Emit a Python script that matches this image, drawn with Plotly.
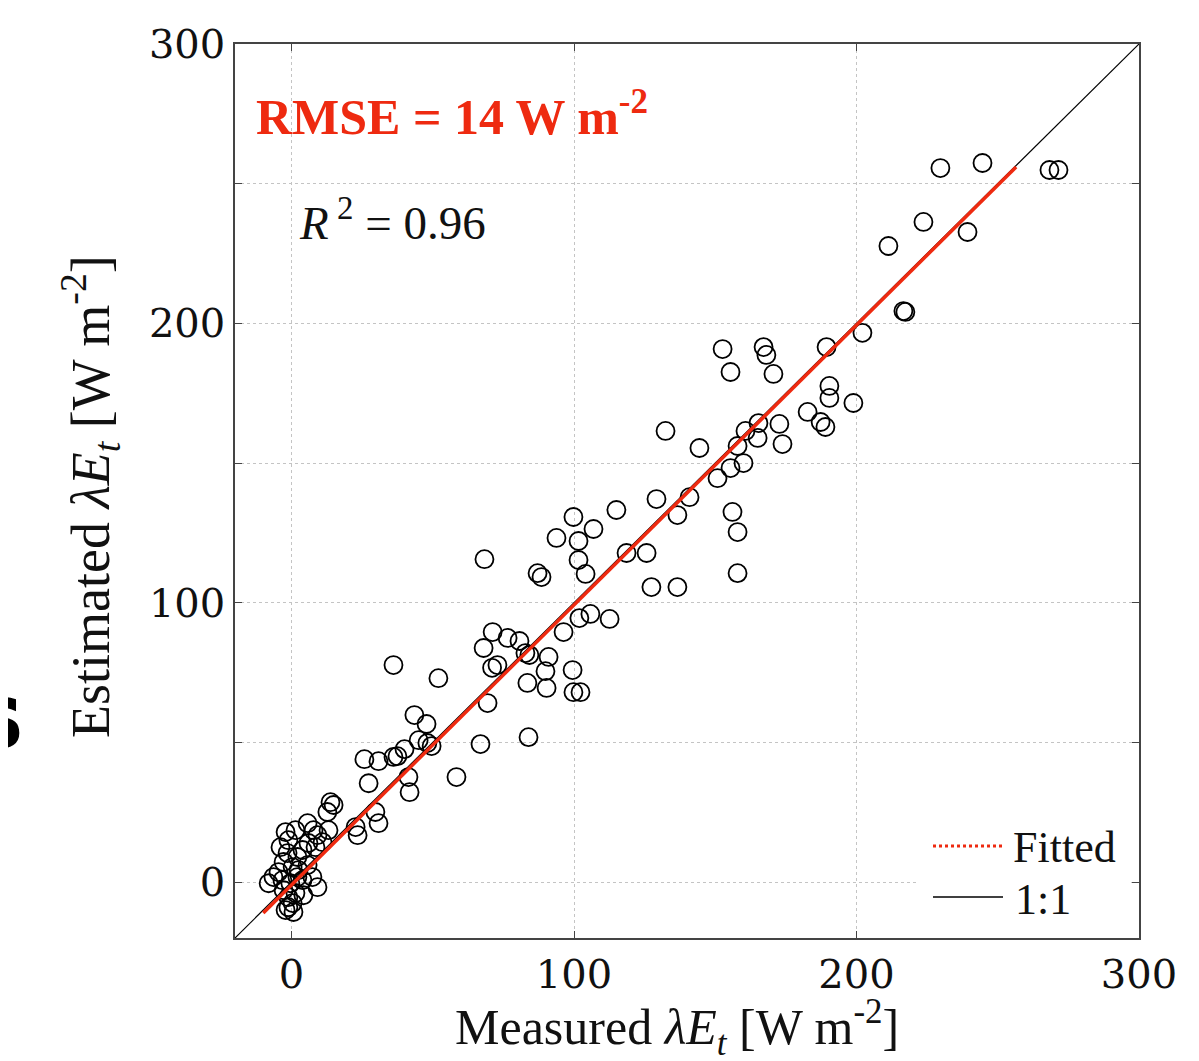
import plotly.graph_objects as go

# measured vs estimated latent heat flux, W m-2
measured = [
    229.7, 244.6, 268.3, 271.5, 223.7, 239.3, 211.3, 216.6, 217.3, 202.1,
    152.6, 167.1, 168.1, 155.4, 170.6, 189.4, 190.4, 190.4, 198.9, 182.7,
    187.3, 189.0, 172.7, 173.8, 165.3, 160.7, 165.0, 157.9, 144.4, 155.4, 160.0,
    132.4, 150.8, 140.9, 136.6, 129.2, 115.0, 156.1, 157.9, 157.9, 125.7,
    118.6, 127.4, 136.6, 99.8, 106.9, 93.8, 101.6, 101.6, 104.1, 68.3,
    87.1, 88.5, 101.9, 105.8, 112.6, 96.3, 71.2, 68.0, 76.5, 80.7,
    82.8, 84.2, 71.0, 72.9, 91.0,
    36.1, 52.0, 83.5, 89.9, 90.3, 99.5, 99.8, 102.3, 69.4, 66.9,
    83.9, 58.4, 43.5, 47.8, 40.0, 37.5, 45.0, 48.1, 49.6, 25.8,
    30.8, 36.1, 27.3, 41.4, 41.8, 29.7, 30.8, 22.7, 23.4, 13.8,
    14.9, 12.7, 13.1,
    -2.1, -1.1, 5.7, 7.8, 9.2, 6.0, 3.9, 2.1, 0.4, -2.8,
    -4.6, -3.2, -6.4, -8.1, -0.4, 3.9, 7.4, 9.2, 4.2, 0.4,
    -2.1, 0.7, -1.1, 11.0, 8.5, 5.7, -1.4, 2.5, -3.9, 1.4,
    2.1, -2.8, 1.4, -1.1,
]
estimated = [
    255.6, 257.4, 254.9, 254.9, 236.3, 232.7, 227.7, 204.4, 204.1, 196.6,
    190.8, 191.5, 188.7, 182.6, 181.9, 191.5, 177.6, 173.3, 171.5, 168.3,
    164.7, 162.9, 164.0, 156.8, 164.3, 161.5, 159.0, 156.1, 155.4, 148.2, 150.0,
    161.5, 144.6, 137.8, 131.4, 137.1, 133.2, 132.5, 125.3, 110.6, 117.8,
    117.8, 105.6, 105.6, 130.7, 126.4, 123.2, 122.1, 115.3, 110.3, 115.6,
    110.6, 109.2, 94.5, 96.0, 94.2, 89.5, 89.5, 83.8, 87.4, 86.3,
    82.0, 81.3, 76.7, 77.7, 80.6,
    77.7, 73.0, 71.3, 75.5, 69.5, 75.9, 68.0, 68.0, 64.1, 49.4,
    51.9, 37.6, 59.8, 56.6, 47.6, 45.1, 50.8, 49.8, 48.7, 44.0,
    43.3, 44.8, 35.4, 37.6, 32.2, 25.1, 21.1, 19.7, 16.8, 28.6,
    27.6, 25.1, 18.6,
    17.9, 15.0, 21.1, 18.6, 16.8, 14.0, 11.5, 9.0, 5.4, 7.2,
    3.6, 0.7, 1.8, -0.4, -0.4, 0.7, 1.8, -1.8, -4.7, -7.5,
    -10.0, -10.7, -5.4, 14.3, 12.5, 6.1, 10.4, 4.3, 12.5, 18.6,
    1.8, -2.9, -3.9, -9.0,
]

fit_slope = 1.002
fit_intercept = -1.0
fit_x = [-10.0, 256.5]
fit_y = [fit_slope * v + fit_intercept for v in fit_x]
one_to_one = [-20, 300]

axis_range = [-20, 300]
x_ticks = [0, 100, 200, 300]
y_ticks = [0, 50, 100, 150, 200, 250, 300]
y_ticktext = ["0", "", "100", "", "200", "", "300"]

SERIF = "Liberation Serif"
TICKFONT = "DejaVu Serif"
RED = "#ee2a10"

# the page puts the figure 8 px in from the top-left corner
OFF = 8
W, H = 1199 - OFF, 1061 - OFF
L, R, T, B = 235 - OFF, 1139 - OFF, 44 - OFF, 938 - OFF


def px(x):
    return (x - OFF - L) / (R - L)


def py(y):
    return (B - (y - OFF)) / (B - T)


fig = go.Figure()
fig.add_trace(go.Scatter(x=one_to_one, y=one_to_one, mode="lines",
                         line=dict(color="black", width=1.2), showlegend=False))
fig.add_trace(go.Scatter(x=measured, y=estimated, mode="markers",
                         marker=dict(symbol="circle-open", size=18, color="black",
                                     line=dict(color="black", width=1.8)),
                         showlegend=False))
fig.add_trace(go.Scatter(x=fit_x, y=fit_y, mode="lines",
                         line=dict(color=RED, width=3.5), showlegend=False))

axis_common = dict(range=axis_range, showline=True, mirror="ticks",
                   linecolor="#444", linewidth=1.5, ticks="inside", ticklen=7,
                   tickcolor="#444", showgrid=True, gridcolor="#c4c4c4",
                   griddash="dot", gridwidth=1, zeroline=False,
                   tickfont=dict(family=TICKFONT, size=40, color="#111"))

fig.update_xaxes(**axis_common, tickvals=x_ticks)
fig.update_yaxes(**axis_common, tickvals=y_ticks, ticktext=y_ticktext)

# legend drawn by hand to match the long dotted sample
shapes = [
    dict(type="rect", xref="paper", yref="paper", x0=px(918), x1=px(1131),
         y0=py(925), y1=py(820), fillcolor="white", line=dict(width=0), layer="above"),
    dict(type="line", xref="paper", yref="paper", x0=px(933), x1=px(1003),
         y0=py(846), y1=py(846), line=dict(color=RED, width=3, dash="dot"),
         layer="above"),
    dict(type="line", xref="paper", yref="paper", x0=px(933), x1=px(1003),
         y0=py(897), y1=py(897), line=dict(color="black", width=1.5), layer="above"),
]

annotations = [
    dict(text="Measured <i>λE<sub>t</sub></i> [W m<sup>-2</sup>]",
         x=px(677), y=py(1027), xanchor="center", yanchor="middle",
         font=dict(family=SERIF, size=50, color="#111")),
    dict(text="Estimated <i>λE<sub>t</sub></i> [W m<sup>-2</sup>]",
         x=px(90), y=py(497), xanchor="center", yanchor="middle", textangle=-90,
         font=dict(family=SERIF, size=54, color="#111")),
    dict(text="Fitted", x=px(1011), y=py(847), xanchor="left", yanchor="middle",
         font=dict(family=SERIF, size=44, color="#111")),
    dict(text="1:1", x=px(1013), y=py(899), xanchor="left", yanchor="middle",
         font=dict(family=SERIF, size=44, color="#111")),
    dict(text="<b>RMSE = 14 W m<sup>-2</sup></b>", x=px(254), y=py(114),
         xanchor="left", yanchor="middle",
         font=dict(family=SERIF, size=50, color=RED)),
    dict(text="<i>R</i><sup> 2</sup> = 0.96", x=px(297), y=py(220),
         xanchor="left", yanchor="middle",
         font=dict(family=SERIF, size=47, color="#111")),
    dict(text="<b>s</b>", x=px(26), y=py(716), xanchor="right", yanchor="middle",
         font=dict(family="DejaVu Sans", size=90, color="black")),
]
for a in annotations:
    a.update(xref="paper", yref="paper", showarrow=False)

fig.update_layout(width=W, height=H, plot_bgcolor="white", paper_bgcolor="white",
                  margin=dict(l=L, r=W - R, t=T, b=H - B),
                  shapes=shapes, annotations=annotations, showlegend=False)

fig.write_html("out.html")
